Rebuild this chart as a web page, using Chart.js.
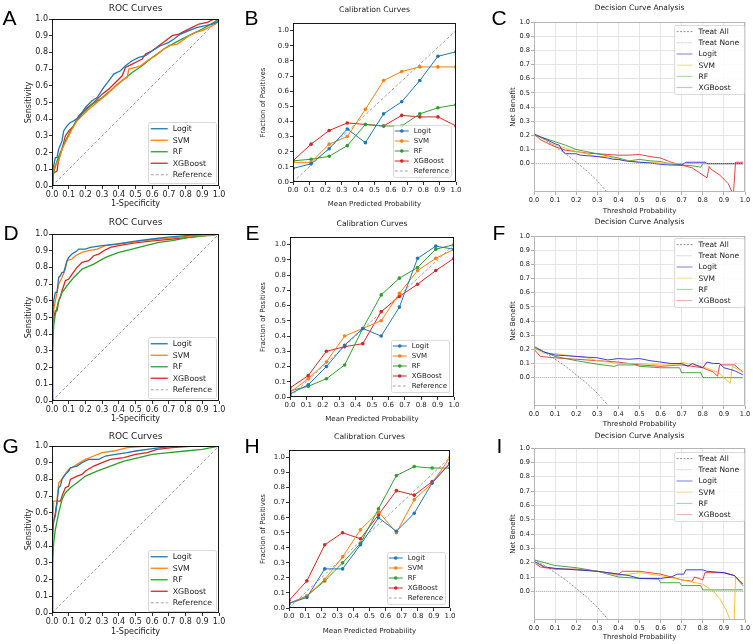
<!DOCTYPE html>
<html>
<head>
<meta charset="utf-8">
<script src="https://cdn.jsdelivr.net/npm/chart.js@4.4.0/dist/chart.umd.min.js"></script>
<style>
html, body { margin: 0; padding: 0; background: #fff; width: 753px; height: 644px; overflow: hidden; position: relative; }
canvas { position: absolute; outline: 1px solid rgba(255,255,255,0.01); }
</style>
</head>
<body>
<script>
// ---- tick labels ----
var tickStep = 0.1;           // every axis is labelled 0.0, 0.1, ... 1.0
var tickFirst = 0, tickLast = 1;
var models = ["Logit", "SVM", "RF", "XGBoost"];

// ---- ROC curves: [1-specificity, sensitivity] ----
var rocA_logit = [[0,0],[0.005,0.1],[0.02,0.17],[0.03,0.17],[0.04,0.22],[0.06,0.27],[0.07,0.33],[0.09,0.36],[0.11,0.38],[0.13,0.39],[0.16,0.41],[0.2,0.47],[0.24,0.51],[0.27,0.53],[0.31,0.59],[0.34,0.63],[0.37,0.67],[0.41,0.69],[0.44,0.72],[0.48,0.75],[0.52,0.77],[0.56,0.78],[0.6,0.81],[0.65,0.84],[0.7,0.86],[0.73,0.88],[0.77,0.91],[0.82,0.93],[0.87,0.95],[0.92,0.96],[0.96,0.97],[0.99,0.98],[1,1]];
var rocA_svm = [[0,0],[0.005,0.08],[0.02,0.13],[0.04,0.15],[0.06,0.22],[0.08,0.26],[0.1,0.3],[0.12,0.34],[0.15,0.39],[0.18,0.42],[0.22,0.46],[0.27,0.5],[0.33,0.55],[0.38,0.6],[0.43,0.64],[0.45,0.65],[0.46,0.7],[0.5,0.71],[0.53,0.72],[0.57,0.75],[0.62,0.78],[0.67,0.82],[0.7,0.84],[0.75,0.85],[0.78,0.87],[0.82,0.9],[0.86,0.92],[0.9,0.93],[0.94,0.95],[0.98,0.97],[1,1]];
var rocA_rf = [[0,0],[0.01,0.08],[0.03,0.15],[0.05,0.2],[0.08,0.27],[0.11,0.33],[0.14,0.38],[0.18,0.43],[0.23,0.48],[0.3,0.53],[0.36,0.58],[0.42,0.63],[0.48,0.68],[0.54,0.72],[0.6,0.77],[0.67,0.82],[0.74,0.86],[0.82,0.9],[0.9,0.94],[0.97,0.98],[1,1]];
var rocA_xgb = [[0,0],[0.005,0.05],[0.01,0.08],[0.03,0.09],[0.04,0.16],[0.06,0.22],[0.08,0.3],[0.1,0.33],[0.13,0.36],[0.16,0.42],[0.2,0.46],[0.25,0.5],[0.3,0.55],[0.34,0.58],[0.38,0.62],[0.42,0.66],[0.44,0.71],[0.48,0.73],[0.52,0.75],[0.54,0.76],[0.56,0.79],[0.6,0.81],[0.64,0.84],[0.68,0.87],[0.72,0.9],[0.76,0.91],[0.8,0.93],[0.84,0.95],[0.88,0.97],[0.93,0.98],[0.97,1.0],[1,1]];

var rocD_logit = [[0,0],[0.003,0.5],[0.01,0.6],[0.02,0.65],[0.03,0.65],[0.04,0.74],[0.05,0.75],[0.06,0.77],[0.07,0.77],[0.09,0.84],[0.1,0.86],[0.12,0.88],[0.15,0.9],[0.16,0.91],[0.2,0.91],[0.23,0.92],[0.3,0.93],[0.38,0.94],[0.45,0.95],[0.52,0.96],[0.6,0.97],[0.68,0.98],[0.8,0.99],[0.9,1.0],[1,1]];
var rocD_svm = [[0,0],[0.003,0.45],[0.01,0.55],[0.02,0.6],[0.04,0.7],[0.06,0.74],[0.08,0.79],[0.09,0.84],[0.12,0.85],[0.14,0.87],[0.18,0.89],[0.22,0.9],[0.27,0.91],[0.32,0.93],[0.4,0.94],[0.48,0.95],[0.55,0.96],[0.65,0.97],[0.75,0.98],[0.85,0.99],[0.95,0.99],[1,1]];
var rocD_rf = [[0,0],[0.003,0.3],[0.01,0.45],[0.02,0.52],[0.04,0.6],[0.06,0.65],[0.09,0.69],[0.13,0.74],[0.18,0.79],[0.25,0.82],[0.32,0.86],[0.4,0.89],[0.48,0.91],[0.56,0.93],[0.64,0.95],[0.72,0.96],[0.82,0.98],[0.92,0.99],[1,1]];
var rocD_xgb = [[0,0],[0.003,0.45],[0.01,0.5],[0.02,0.54],[0.03,0.54],[0.04,0.6],[0.05,0.62],[0.06,0.66],[0.08,0.72],[0.1,0.73],[0.12,0.76],[0.15,0.8],[0.18,0.83],[0.22,0.84],[0.25,0.87],[0.28,0.88],[0.31,0.9],[0.35,0.92],[0.4,0.93],[0.45,0.94],[0.52,0.95],[0.62,0.96],[0.72,0.97],[0.82,0.98],[0.92,0.99],[1,1]];

var rocG_logit = [[0,0],[0.003,0.45],[0.01,0.55],[0.02,0.58],[0.03,0.66],[0.04,0.75],[0.05,0.76],[0.06,0.8],[0.08,0.83],[0.1,0.85],[0.11,0.87],[0.15,0.88],[0.18,0.9],[0.22,0.92],[0.28,0.92],[0.32,0.94],[0.38,0.95],[0.45,0.96],[0.5,0.97],[0.57,0.98],[0.65,0.99],[0.75,1.0],[1,1]];
var rocG_svm = [[0,0],[0.003,0.55],[0.01,0.67],[0.03,0.67],[0.04,0.78],[0.05,0.79],[0.07,0.82],[0.1,0.86],[0.12,0.87],[0.15,0.89],[0.2,0.92],[0.25,0.94],[0.3,0.96],[0.37,0.97],[0.45,0.99],[0.57,1.0],[1,1]];
var rocG_rf = [[0,0],[0.003,0.3],[0.01,0.42],[0.02,0.5],[0.04,0.6],[0.06,0.68],[0.08,0.72],[0.11,0.75],[0.15,0.78],[0.2,0.82],[0.27,0.85],[0.35,0.88],[0.43,0.91],[0.52,0.93],[0.6,0.95],[0.7,0.96],[0.8,0.97],[0.9,0.98],[1,1]];
var rocG_xgb = [[0,0],[0.003,0.5],[0.01,0.55],[0.02,0.6],[0.03,0.67],[0.05,0.67],[0.06,0.7],[0.08,0.75],[0.1,0.76],[0.11,0.8],[0.15,0.82],[0.18,0.83],[0.2,0.85],[0.25,0.88],[0.3,0.9],[0.35,0.92],[0.43,0.93],[0.5,0.95],[0.57,0.96],[0.63,0.98],[0.72,0.99],[0.85,1.0],[1,1]];

var diagonal = [[0,0],[1,1]];

// ---- calibration curves: fraction of positives per bin ----
var calBins = [0, 0.111, 0.222, 0.333, 0.444, 0.556, 0.667, 0.778, 0.889, 1.0];
var calB_logit = [0.09, 0.12, 0.22, 0.35, 0.26, 0.45, 0.53, 0.67, 0.83, 0.86];
var calB_svm   = [0.13, 0.13, 0.25, 0.30, 0.48, 0.67, 0.73, 0.76, 0.76, 0.76];
var calB_rf    = [0.14, 0.15, 0.17, 0.24, 0.38, 0.37, 0.37, 0.45, 0.49, 0.51];
var calB_xgb   = [0.14, 0.25, 0.34, 0.39, 0.38, 0.37, 0.44, 0.43, 0.43, 0.37];

var calE_logit = [0.02, 0.08, 0.20, 0.34, 0.45, 0.40, 0.59, 0.91, 0.99, 0.97];
var calE_svm   = [0.03, 0.12, 0.23, 0.40, 0.45, 0.50, 0.68, 0.83, 0.91, 0.97];
var calE_rf    = [0.04, 0.07, 0.12, 0.21, 0.45, 0.67, 0.78, 0.85, 0.97, 1.00];
var calE_xgb   = [0.06, 0.14, 0.30, 0.33, 0.35, 0.56, 0.66, 0.74, 0.83, 0.91];

var calH_logit = [0.03, 0.07, 0.26, 0.26, 0.42, 0.60, 0.51, 0.63, 0.83, 0.96];
var calH_svm   = [0.03, 0.08, 0.19, 0.34, 0.52, 0.64, 0.50, 0.72, 0.83, 1.00];
var calH_rf    = [0.03, 0.08, 0.18, 0.30, 0.43, 0.66, 0.88, 0.94, 0.93, 0.93];
var calH_xgb   = [0.05, 0.18, 0.42, 0.50, 0.46, 0.62, 0.78, 0.75, 0.84, 0.96];

// ---- decision curves: [threshold, net benefit] ----
var dcaC_all = [[0,0.21],[0.05,0.17],[0.1,0.12],[0.15,0.07],[0.2,0.01],[0.25,-0.05],[0.3,-0.12],[0.35,-0.21]];
var dcaC_logit = [[0,0.21],[0.03,0.19],[0.06,0.17],[0.1,0.14],[0.12,0.13],[0.14,0.08],[0.15,0.07],[0.2,0.07],[0.22,0.06],[0.26,0.055],[0.3,0.05],[0.35,0.04],[0.38,0.03],[0.4,0.03],[0.43,0.02],[0.46,0.015],[0.5,0.01],[0.55,0.005],[0.6,-0.005],[0.65,-0.01],[0.7,-0.01],[0.72,0.01],[0.81,0.01],[0.82,0.0],[0.99,0.0]];
var dcaC_svm = [[0,0.21],[0.05,0.17],[0.1,0.13],[0.15,0.11],[0.2,0.085],[0.25,0.07],[0.3,0.05],[0.35,0.05],[0.4,0.03],[0.45,0.02],[0.5,0.01],[0.55,0.01],[0.6,0.005],[0.7,0.0],[0.8,0.0],[0.99,0.0]];
var dcaC_rf = [[0,0.2],[0.05,0.18],[0.1,0.155],[0.15,0.13],[0.2,0.1],[0.25,0.085],[0.3,0.07],[0.35,0.055],[0.4,0.04],[0.45,0.02],[0.5,0.03],[0.55,0.02],[0.6,0.015],[0.64,0.0],[0.7,-0.01],[0.75,-0.015],[0.79,-0.025],[0.8,0.0],[0.99,0.0]];
var dcaC_xgb = [[0,0.21],[0.03,0.17],[0.07,0.14],[0.1,0.12],[0.15,0.095],[0.2,0.085],[0.25,0.075],[0.3,0.07],[0.35,0.065],[0.4,0.06],[0.45,0.06],[0.5,0.065],[0.55,0.05],[0.6,0.04],[0.65,0.01],[0.7,-0.01],[0.75,-0.03],[0.8,-0.08],[0.82,-0.1],[0.83,-0.02],[0.84,-0.04],[0.88,-0.08],[0.92,-0.14],[0.945,-0.22],[0.955,0.01],[0.99,0.01]];

var dcaF_all = [[0,0.22],[0.05,0.18],[0.1,0.13],[0.15,0.08],[0.2,0.02],[0.25,-0.04],[0.3,-0.11],[0.36,-0.21]];
var dcaF_logit = [[0,0.22],[0.05,0.18],[0.1,0.16],[0.2,0.15],[0.25,0.145],[0.3,0.14],[0.35,0.125],[0.4,0.135],[0.45,0.13],[0.5,0.135],[0.55,0.12],[0.6,0.11],[0.65,0.1],[0.7,0.1],[0.73,0.08],[0.75,0.1],[0.8,0.07],[0.82,0.11],[0.85,0.1],[0.88,0.1],[0.9,0.07],[0.95,0.05],[0.99,0.02]];
var dcaF_svm = [[0,0.21],[0.05,0.17],[0.1,0.17],[0.15,0.16],[0.2,0.15],[0.25,0.14],[0.3,0.12],[0.4,0.1],[0.5,0.1],[0.6,0.09],[0.68,0.09],[0.7,0.11],[0.75,0.09],[0.8,0.08],[0.85,0.05],[0.88,0.03],[0.9,0.0],[0.93,-0.04],[0.94,0.08],[0.99,0.04]];
var dcaF_rf = [[0,0.21],[0.05,0.18],[0.1,0.15],[0.2,0.12],[0.3,0.095],[0.38,0.08],[0.4,0.09],[0.48,0.09],[0.5,0.08],[0.6,0.07],[0.69,0.07],[0.7,0.035],[0.79,0.035],[0.8,0.0],[0.99,0.0]];
var dcaF_xgb = [[0,0.2],[0.03,0.15],[0.1,0.14],[0.2,0.13],[0.3,0.12],[0.4,0.11],[0.5,0.09],[0.6,0.08],[0.7,0.09],[0.8,0.07],[0.85,0.04],[0.87,0.01],[0.88,0.09],[0.95,0.09],[0.99,0.04]];

var dcaI_all = [[0,0.22],[0.05,0.18],[0.1,0.13],[0.15,0.08],[0.2,0.02],[0.25,-0.04],[0.3,-0.11],[0.36,-0.21]];
var dcaI_logit = [[0,0.21],[0.05,0.17],[0.1,0.16],[0.2,0.15],[0.3,0.14],[0.4,0.12],[0.45,0.11],[0.5,0.09],[0.55,0.09],[0.6,0.09],[0.65,0.1],[0.68,0.12],[0.71,0.12],[0.72,0.15],[0.8,0.15],[0.82,0.14],[0.9,0.13],[0.95,0.11],[0.99,0.05]];
var dcaI_svm = [[0,0.2],[0.05,0.17],[0.1,0.16],[0.2,0.15],[0.3,0.14],[0.37,0.12],[0.4,0.11],[0.45,0.12],[0.5,0.13],[0.6,0.11],[0.7,0.08],[0.8,0.05],[0.85,0.0],[0.88,-0.05],[0.91,-0.13],[0.93,-0.2],[0.945,-0.4],[0.955,0.1],[0.99,0.05]];
var dcaI_rf = [[0,0.22],[0.05,0.2],[0.1,0.18],[0.2,0.165],[0.3,0.14],[0.4,0.1],[0.5,0.09],[0.59,0.085],[0.6,0.06],[0.69,0.06],[0.7,0.04],[0.79,0.04],[0.8,0.01],[0.99,0.01]];
var dcaI_xgb = [[0,0.2],[0.03,0.17],[0.1,0.155],[0.2,0.155],[0.3,0.14],[0.4,0.12],[0.42,0.14],[0.5,0.14],[0.6,0.12],[0.7,0.08],[0.75,0.07],[0.76,0.1],[0.8,0.08],[0.81,0.13],[0.9,0.13],[0.95,0.11],[0.99,0.04]];

var treatNone = [[0,0],[1,0]];

// ---- styling ----
var FONT = "'DejaVu Sans', sans-serif";
var tab10 = ["#1f77b4", "#ff7f0e", "#2ca02c", "#d62728"];
var dcaLine = ["rgba(30,30,215,0.85)", "rgba(245,190,30,0.9)", "rgba(40,150,40,0.85)", "rgba(225,35,35,0.85)"];
var dcaLegend = ["rgba(40,40,190,0.6)", "rgba(240,195,50,0.6)", "rgba(60,170,60,0.5)", "rgba(215,70,70,0.45)"];

var STYLE = {
    roc: { title: 9, tick: 8, label: 8, frame: "#000", tickColor: "#000", legend: 7.8 },
    cal: { title: 7.7, tick: 7, label: 7, frame: "#000", tickColor: "#000", legend: 7 },
    dca: { title: 7.5, tick: 6.6, label: 7, frame: "#b0b0b0", tickColor: "#999", legend: 7.5 }
};

function pts(arr) {
    return arr.map(function (p) { return { x: p[0], y: p[1] }; });
}
function binned(vals) {
    return vals.map(function (v, i) { return { x: calBins[i], y: v }; });
}

var framePlugin = {
    id: "frame",
    afterDatasetsDraw: function (chart, args, o) {
        var a = chart.chartArea, ctx = chart.ctx;
        ctx.save();
        ctx.strokeStyle = o.color;
        ctx.lineWidth = 0.9;
        ctx.strokeRect(Math.round(a.left) + 0.5, Math.round(a.top) + 0.5,
            Math.round(a.right - a.left) - 1, Math.round(a.bottom - a.top) - 1);
        ctx.restore();
    }
};

// matplotlib-like legend drawn inside the axes
var legendPlugin = {
    id: "boxLegend",
    afterDraw: function (chart, args, o) {
        var a = chart.chartArea, ctx = chart.ctx;
        var items = chart.data.datasets;
        ctx.save();
        ctx.font = o.size + "px " + FONT;
        var tw = 0;
        items.forEach(function (d) { tw = Math.max(tw, ctx.measureText(d.label).width); });
        var w = o.padL + o.handle + o.gap + tw + o.padR;
        var h = o.padT * 2 + o.rowH * items.length;
        var x = a.right - o.right - w;
        var y = (o.top != null) ? a.top + o.top : a.bottom - o.bottom - h;
        ctx.fillStyle = "rgba(255,255,255,0.85)";
        ctx.strokeStyle = "#d0d0d0";
        ctx.lineWidth = 0.8;
        ctx.beginPath();
        ctx.roundRect(Math.round(x) + 0.5, Math.round(y) + 0.5, Math.round(w), Math.round(h), 2);
        ctx.fill();
        ctx.stroke();
        items.forEach(function (d, i) {
            var cy = y + o.padT + o.rowH * (i + 0.5);
            var x0 = x + o.padL;
            ctx.strokeStyle = d.legendColor || d.borderColor;
            ctx.lineWidth = d.borderWidth;
            ctx.setLineDash(d.borderDash || []);
            ctx.beginPath();
            ctx.moveTo(x0, cy);
            ctx.lineTo(x0 + o.handle, cy);
            ctx.stroke();
            ctx.setLineDash([]);
            if (d.pointRadius > 0) {
                ctx.fillStyle = d.borderColor;
                ctx.beginPath();
                ctx.arc(x0 + o.handle / 2, cy, d.pointRadius, 0, Math.PI * 2);
                ctx.fill();
            }
            ctx.fillStyle = "#222";
            ctx.textBaseline = "middle";
            ctx.textAlign = "left";
            ctx.fillText(d.label, x0 + o.handle + o.gap, cy + 0.5);
        });
        ctx.restore();
    }
};

// big panel letter (A, B, ...) drawn in the top-left corner of each canvas
var letterPlugin = {
    id: "panelLetter",
    afterDraw: function (chart, args, o) {
        var ctx = chart.ctx;
        ctx.save();
        ctx.font = '21px "Liberation Sans", Arial, sans-serif';
        ctx.fillStyle = "#000";
        ctx.textBaseline = "alphabetic";
        ctx.textAlign = "left";
        ctx.fillText(o.text, o.x, o.y);
        ctx.restore();
    }
};

var charts = [];

function build(P, kind, datasets, leg, yMin, yMax) {
    var S = STYLE[kind];
    // each canvas starts at its panel letter, so no two canvases overlap
    var cx = P.lx, cy = P.titleY - 6;
    var padL = (P.ylabX - 8) - cx;
    var cw = Math.min(753, P.R + 8) - cx;
    var ch = Math.min(644, P.xlabY + 5) - cy;
    var c = document.createElement("canvas");
    c.width = cw;
    c.height = ch;
    c.style.left = cx + "px";
    c.style.top = cy + "px";
    document.body.appendChild(c);

    var tl = S.title * 1.2, ll = S.label * 1.2;
    leg.size = S.legend;
    var grid = function () {
        return {
            drawOnChartArea: kind === "dca",
            color: "#e2e2e2",
            lineWidth: 0.9,
            tickLength: 3,
            tickColor: S.tickColor,
            tickWidth: 0.8
        };
    };
    // labels only between tickFirst and tickLast; outside that the tick (and grid line) is dropped
    var fmt = function (v) {
        if (v < tickFirst - 1e-6 || v > tickLast + 1e-6) return null;
        return (Math.round(v * 10) / 10).toFixed(1);
    };
    var ticks = function () {
        return { font: { family: FONT, size: S.tick }, color: "#222", padding: 1, stepSize: tickStep,
            includeBounds: false, autoSkip: false, maxRotation: 0, minRotation: 0, callback: fmt };
    };
    var labelFont = { family: FONT, size: S.label, lineHeight: 1.2 };

    charts.push(new Chart(c, {
        type: "line",
        data: { datasets: datasets },
        options: {
            responsive: false,
            animation: false,
            events: [],
            devicePixelRatio: 1,
            layout: { padding: { left: padL, top: 0, right: cx + cw - P.R, bottom: 0 } },
            elements: { line: { tension: 0 } },
            plugins: {
                legend: { display: false },
                tooltip: { enabled: false },
                title: {
                    display: true,
                    text: P.title,
                    fullSize: false,
                    color: "#222",
                    font: { family: FONT, size: S.title, weight: "normal", lineHeight: 1.2 },
                    padding: { top: P.titleY - cy - tl / 2, bottom: P.T - P.titleY - tl / 2 }
                },
                frame: { color: S.frame },
                boxLegend: leg,
                panelLetter: { text: P.letter, x: P.lx + 0.5 - cx, y: P.ly + 15 - cy }
            },
            scales: {
                x: {
                    type: "linear",
                    min: 0,
                    max: 1,
                    afterFit: function (s) { s.height = cy + ch - P.B; },
                    ticks: ticks(),
                    grid: grid(),
                    border: { display: false },
                    title: { display: true, text: P.xlab, color: "#222", font: labelFont,
                        padding: { top: 0, bottom: cy + ch - P.xlabY - ll / 2 } }
                },
                y: {
                    type: "linear",
                    min: yMin,
                    max: yMax,
                    afterFit: function (s) { s.width = P.L - cx - padL; },
                    ticks: ticks(),
                    grid: grid(),
                    border: { display: false },
                    title: { display: true, text: P.ylab, color: "#222", font: labelFont,
                        padding: { top: P.ylabX - cx - padL - ll / 2, bottom: 0 } }
                }
            }
        },
        plugins: [framePlugin, legendPlugin, letterPlugin]
    }));
}

function rocSets(series) {
    var sets = series.map(function (s, i) {
        return { label: models[i], data: pts(s), borderColor: tab10[i], borderWidth: 1.3, pointRadius: 0 };
    });
    sets.push({ label: "Reference", data: pts(diagonal), borderColor: "#9a9a9a", borderWidth: 0.9,
        borderDash: [3, 2], pointRadius: 0 });
    return sets;
}
function calSets(series) {
    var sets = series.map(function (s, i) {
        return { label: models[i], data: binned(s), borderColor: tab10[i], backgroundColor: tab10[i],
            borderWidth: 1, pointRadius: 1.8, pointBorderWidth: 0 };
    });
    sets.push({ label: "Reference", data: pts(diagonal), borderColor: "#9a9a9a", borderWidth: 0.9,
        borderDash: [3, 2], pointRadius: 0 });
    return sets;
}
function dcaSets(all, series) {
    var sets = [
        { label: "Treat All", data: pts(all), borderColor: "#777", borderWidth: 0.8, borderDash: [2, 1.5], pointRadius: 0 },
        { label: "Treat None", data: pts(treatNone), borderColor: "#b0b0b0", borderWidth: 0.8, borderDash: [1, 1], pointRadius: 0 }
    ];
    series.forEach(function (s, i) {
        sets.push({ label: models[i], data: pts(s), borderColor: dcaLine[i], legendColor: dcaLegend[i],
            borderWidth: 1, pointRadius: 0 });
    });
    return sets;
}

var rocLeg = function (bottom) { return { padL: 3, handle: 17, gap: 5, padR: 4, padT: 1.5, rowH: 11.5, right: 3, bottom: bottom }; };
var calLeg = function (bottom) { return { padL: 2, handle: 14, gap: 5, padR: 2, padT: 1, rowH: 10, right: 5, bottom: bottom }; };
var dcaLeg = function (top) { return { padL: 3, handle: 16, gap: 6, padR: 5, padT: 1, rowH: 11.2, right: 1, top: top }; };

var rocText = { title: "ROC Curves", xlab: "1-Specificity", ylab: "Sensitivity" };
var calText = { title: "Calibration Curves", xlab: "Mean Predicted Probability", ylab: "Fraction of Positives" };
var dcaText = { title: "Decision Curve Analysis", xlab: "Threshold Probability", ylab: "Net Benefit" };

function box(t, b) { return Object.assign({}, t, b); }

build(box(rocText, { letter: "A", lx: 2, ly: 10, L: 52, R: 219, T: 19, B: 186, titleY: 9, xlabY: 204, ylabX: 29 }), "roc",
    rocSets([rocA_logit, rocA_svm, rocA_rf, rocA_xgb]), rocLeg(4), 0, 1);
build(box(calText, { letter: "B", lx: 244, ly: 10, L: 293, R: 456, T: 23, B: 182, titleY: 10, xlabY: 204, ylabX: 263 }), "cal",
    calSets([calB_logit, calB_svm, calB_rf, calB_xgb]), calLeg(5), 0, 1.05);
build(box(dcaText, { letter: "C", lx: 491, ly: 10, L: 534, R: 745, T: 22, B: 192, titleY: 8, xlabY: 211, ylabX: 513 }), "dca",
    dcaSets(dcaC_all, [dcaC_logit, dcaC_svm, dcaC_rf, dcaC_xgb]), dcaLeg(3), -0.2, 1);

build(box(rocText, { letter: "D", lx: 3, ly: 225, L: 52, R: 219, T: 234, B: 401, titleY: 223, xlabY: 419, ylabX: 29 }), "roc",
    rocSets([rocD_logit, rocD_svm, rocD_rf, rocD_xgb]), rocLeg(4), 0, 1);
build(box(calText, { letter: "E", lx: 245, ly: 225, L: 290, R: 454, T: 237, B: 397, titleY: 224, xlabY: 419, ylabX: 263 }), "cal",
    calSets([calE_logit, calE_svm, calE_rf, calE_xgb]), calLeg(5), 0, 1.05);
build(box(dcaText, { letter: "F", lx: 492, ly: 225, L: 534, R: 745, T: 236, B: 406, titleY: 222, xlabY: 424, ylabX: 513 }), "dca",
    dcaSets(dcaF_all, [dcaF_logit, dcaF_svm, dcaF_rf, dcaF_xgb]), dcaLeg(2), -0.2, 1);

build(box(rocText, { letter: "G", lx: 2, ly: 438, L: 52, R: 219, T: 446, B: 613, titleY: 437, xlabY: 632, ylabX: 29 }), "roc",
    rocSets([rocG_logit, rocG_svm, rocG_rf, rocG_xgb]), rocLeg(3), 0, 1);
build(box(calText, { letter: "H", lx: 244, ly: 438, L: 289, R: 450, T: 450, B: 608, titleY: 437, xlabY: 631, ylabX: 263 }), "cal",
    calSets([calH_logit, calH_svm, calH_rf, calH_xgb]), calLeg(4), 0, 1.05);
build(box(dcaText, { letter: "I", lx: 496, ly: 438, L: 534, R: 745, T: 448, B: 620, titleY: 436, xlabY: 637, ylabX: 513 }), "dca",
    dcaSets(dcaI_all, [dcaI_logit, dcaI_svm, dcaI_rf, dcaI_xgb]), dcaLeg(4), -0.2, 1);

// repaint once more on the next frame
requestAnimationFrame(function () {
    charts.forEach(function (ch) { ch.draw(); });
});
</script>
</body>
</html>
